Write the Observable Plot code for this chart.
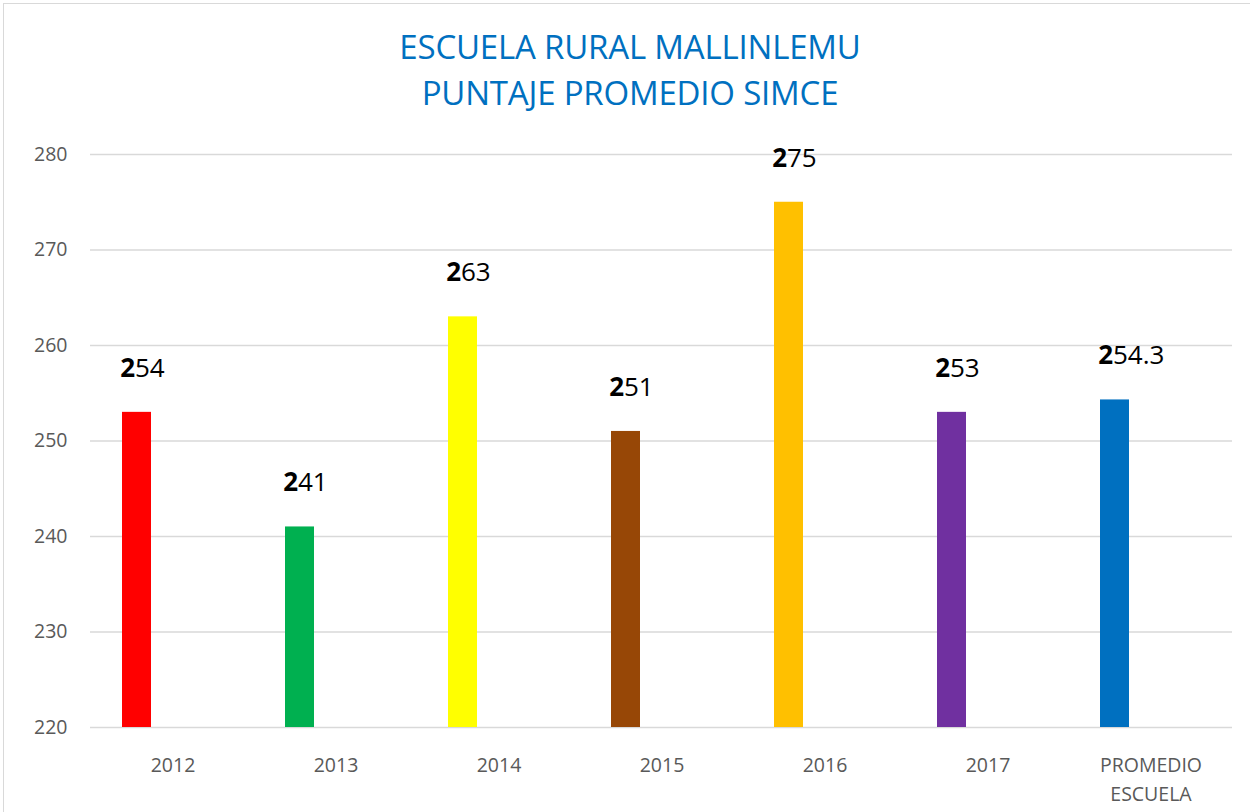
<!DOCTYPE html>
<html>
<head>
<meta charset="utf-8">
<script src="https://cdn.jsdelivr.net/npm/d3@7"></script>
<script src="https://cdn.jsdelivr.net/npm/@observablehq/plot@0.6"></script>
<style>
  html, body { margin: 0; padding: 0; background: #fff; }
  body { width: 1250px; height: 812px; overflow: hidden; position: relative; font-family: "Open Sans", sans-serif; }
  #frame { position: absolute; left: 3px; top: 3px; width: 1300px; height: 900px; border: 1.5px solid #d9d9d9; box-sizing: border-box; }
  #title { position: absolute; left: 0; top: 24px; width: 1260px; text-align: center; color: #0070C0; font-size: 33px; line-height: 46px; letter-spacing: -0.2px; }
  #chart { position: absolute; left: 0; top: 120px; }
</style>
</head>
<body>
<div id="frame"></div>
<div id="title">ESCUELA RURAL MALLINLEMU<br>PUNTAJE PROMEDIO SIMCE</div>
<div id="chart"></div>
<script>
const categories = ["2012", "2013", "2014", "2015", "2016", "2017", "PROMEDIO\nESCUELA"];
const values = [253, 241, 263, 251, 275, 253, 254.3];
const labels = ["254", "241", "263", "251", "275", "253", "254.3"];
const colors = ["#FF0000", "#00B050", "#FFFF00", "#974706", "#FFC000", "#7030A0", "#0070C0"];
const yTicks = [220, 230, 240, 250, 260, 270, 280];

const yMin = yTicks[0];
const data = categories.map((c, i) => ({
  cat: c,
  value: values[i],
  head: labels[i].slice(0, 1),
  tail: labels[i].slice(1),
  color: colors[i]
}));

const chart = Plot.plot({
  width: 1250,
  height: 692,
  marginLeft: 90,
  marginRight: 18,
  marginTop: 34,
  marginBottom: 85,
  style: { fontFamily: "Open Sans", fontSize: "19.5px", background: "transparent" },
  x: { domain: categories, padding: 0 },
  y: { domain: [yTicks[0], yTicks[yTicks.length - 1]] },
  marks: [
    Plot.ruleY(yTicks, { stroke: "#d9d9d9", strokeWidth: 1.5 }),
    Plot.barY(data, { x: "cat", y1: yMin, y2: "value", fill: "color", insetLeft: 67, insetRight: 67, dx: -36 }),
    Plot.text(data, { x: "cat", y: "value", text: "head", textAnchor: "end", dx: -38, dy: -44, fontSize: 26, fontWeight: "bold", fill: "#000" }),
    Plot.text(data, { x: "cat", y: "value", text: "tail", textAnchor: "start", dx: -38, dy: -44, fontSize: 26, fill: "#000" }),
    Plot.axisY(yTicks, { tickSize: 0, tickPadding: 23, fill: "#595959", label: null }),
    Plot.axisX({ tickSize: 0, tickPadding: 24, fill: "#595959", lineHeight: 1.49, label: null })
  ]
});
document.getElementById("chart").appendChild(chart);
</script>
</body>
</html>
